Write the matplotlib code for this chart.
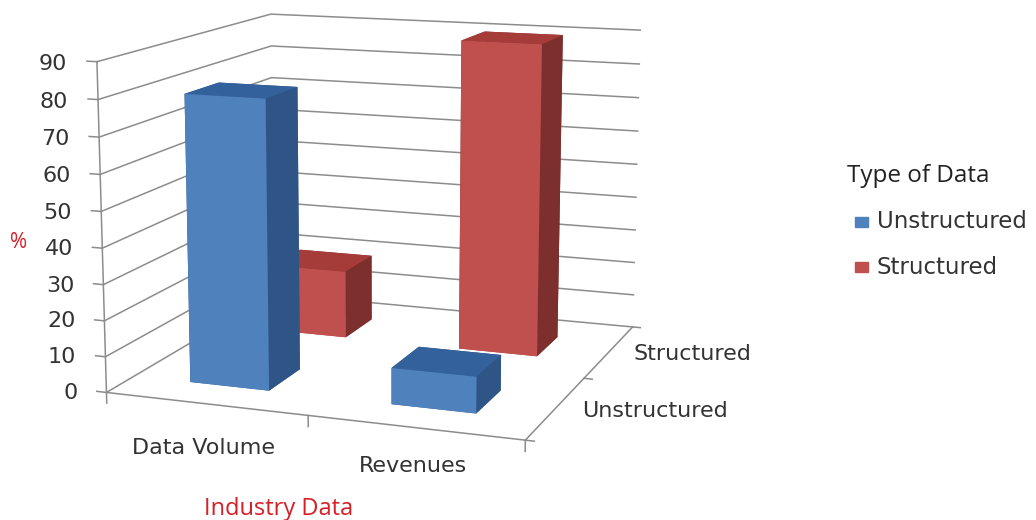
import numpy as np
import matplotlib
matplotlib.use("Agg")
import matplotlib.pyplot as plt
from matplotlib.patches import Rectangle

categories = ["Data Volume", "Revenues"]
series = ["Unstructured", "Structured"]
unstructured = [80, 10]
structured = [20, 90]
z_ticks = list(range(0, 100, 10))

BLUE = ("#4F81BD", "#33619B", "#2F5586")
RED = ("#C0504D", "#A63C39", "#7D2F2D")

fig = plt.figure(figsize=(10.36, 5.2), dpi=100)
ax = fig.add_axes([52.4 / 1036, -15.7 / 520, 646.1 / 1036, 646.1 / 520], projection="3d")
ax.set_proj_type("persp", focal_length=0.591)
ax.view_init(elev=11.844, azim=-69.812)
ax.set_box_aspect((1.025, 1, 0.784))
ax.set_xlim(0, 2); ax.set_ylim(0, 2); ax.set_zlim(0, 90)
ax.set_axis_off()
ax.patch.set_alpha(0)

line = dict(color="#8c8c8c", lw=1.1)
for z in z_ticks:
    ax.plot([0, 0, 2], [0, 2, 2], [z, z, z], **line)
    ax.plot([0, -0.05], [0, 0], [z, z], **line)
ax.plot([0, 2, 2], [0, 0, 2], [0, 0, 0], **line)
ax.plot([0, 0], [0, 0], [0, 90], **line)
for x in range(3):
    ax.plot([x, x], [0, 0], [0, -3], **line)
for y in range(3):
    ax.plot([2, 2.04], [y, y], [0, 0], **line)

w = 0.40
d = 0.38
for si, (vals, cols) in enumerate(zip([unstructured, structured], [BLUE, RED])):
    for ci, v in enumerate(vals):
        front, top, side = cols
        ax.bar3d(ci + 0.29, si + 0.29, 0, w, d, v, shade=False,
                 color=[top, top, front, side, side, side], edgecolor="none",
                 zsort="max")

TXT = "#333333"
for z in z_ticks:
    ax.text(-0.15, 0, z - 1, str(z), ha="right", va="center", fontsize=16, color=TXT)
for c, lx, lz in zip(categories, [0.6, 1.58], [-7, -5]):
    ax.text(lx, -0.25, lz, c, ha="center", va="center", fontsize=16, color=TXT)
for i, s in enumerate(series):
    ax.text(2.12, i + 0.5, 0, s, ha="left", va="center", fontsize=16, color=TXT)

RT = "#D42027"
fig.text(19 / 1036, 1 - 243 / 520, "%", color=RT, fontsize=15, ha="center", va="center", family="Open Sans")
fig.text(279 / 1036, 1 - 509 / 520, "Industry Data", color=RT, fontsize=17, ha="center", va="center", family="Open Sans")
fig.text(847 / 1036, 1 - 176 / 520, "Type of Data", color="#222222", fontsize=17.5, ha="left", va="center", family="Open Sans")
for s, col, y in zip(series, [BLUE[0], RED[0]], [222, 267]):
    fig.add_artist(Rectangle((855 / 1036, 1 - (y + 5) / 520), 13 / 1036, 10 / 520, color=col, transform=fig.transFigure))
    fig.text(877 / 1036, 1 - y / 520, s, color=TXT, fontsize=16.5, ha="left", va="center")

fig.savefig("out.png", dpi=100)
